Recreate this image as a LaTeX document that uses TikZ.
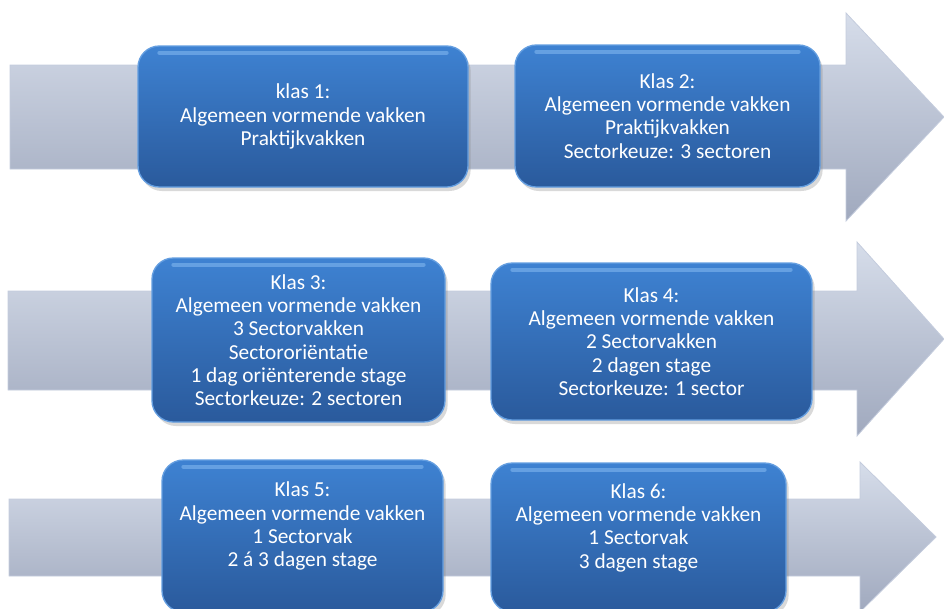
\documentclass[tikz,border=0pt]{standalone}
\usepackage{fontspec}
\setmainfont{Carlito}
\usetikzlibrary{shadows}
\definecolor{bandtop}{RGB}{214,221,234}
\definecolor{bandbot}{RGB}{160,169,190}
\definecolor{bandline}{RGB}{196,204,221}
\definecolor{klastop}{RGB}{62,130,210}
\definecolor{klasbot}{RGB}{42,90,156}
\definecolor{klasline}{RGB}{100,158,224}
\definecolor{klasshine}{RGB}{150,200,250}
\tikzstyle{band} = [top color=bandtop, bottom color=bandbot, draw=bandline, line width=0.6pt]
\tikzstyle{klas} = [rectangle, rounded corners=16pt, inner sep=0pt, align=center, text=white,
	font=\fontsize{16}{17.5}\selectfont, top color=klastop, bottom color=klasbot,
	draw=klasline, line width=1pt, drop shadow={shadow xshift=2pt, shadow yshift=-3pt, opacity=0.3},
	path picture={\draw [klasshine, opacity=0.45, line width=3pt, line cap=round]
		([xshift=16pt, yshift=-5pt]path picture bounding box.north west) --
		([xshift=-16pt, yshift=-5pt]path picture bounding box.north east);}]

\begin{document}
\begin{tikzpicture}[x=0.75pt, y=-0.75pt]
	\useasboundingbox (0,0) rectangle (944,608);
	
	% grey arrows
	\path [band] (10,65) -- (846,65) -- (846,13) -- (944,117) -- (846,221) -- (846,169) -- (10,169) -- cycle;
	\path [band] (8,291) -- (857,291) -- (857,242) -- (944,339) -- (857,436) -- (857,390) -- (8,390) -- cycle;
	\path [band] (9,499) -- (860,499) -- (860,462) -- (936,537) -- (860,612) -- (860,576) -- (9,576) -- cycle;
	
	% klas 1 and 2
	\node [klas, minimum width=247.5pt, minimum height=105.75pt] at (303, 116.5) (k1) {klas 1:\\Algemeen vormende vakken\\Praktijkvakken};
	\node [klas, minimum width=228.75pt, minimum height=106.5pt] at (667.5, 116) (k2) {Klas 2:\\Algemeen vormende vakken\\Praktijkvakken\\Sectorkeuze: 3 sectoren};
	
	% klas 3 and 4
	\node [klas, minimum width=219.75pt, minimum height=123pt] at (298.5, 340) (k3) {Klas 3:\\Algemeen vormende vakken\\3 Sectorvakken\\Sectororiëntatie\\1 dag oriënterende stage\\Sectorkeuze: 2 sectoren};
	\node [klas, minimum width=240.75pt, minimum height=117.75pt] at (651.5, 341.5) (k4) {Klas 4:\\Algemeen vormende vakken\\2 Sectorvakken\\2 dagen stage\\Sectorkeuze: 1 sector};
	
	% klas 5 and 6
	\node [klas, minimum width=210.75pt, minimum height=114pt] at (302.5, 536) (k5) {Klas 5:\\Algemeen vormende vakken\\1 Sectorvak\\2 á 3 dagen stage\\ \mbox{}};
	\node [klas, minimum width=221.25pt, minimum height=111.75pt] at (638.5, 537.5) (k6) {Klas 6:\\Algemeen vormende vakken\\1 Sectorvak\\3 dagen stage\\ \mbox{}};
	
\end{tikzpicture}
\end{document}
